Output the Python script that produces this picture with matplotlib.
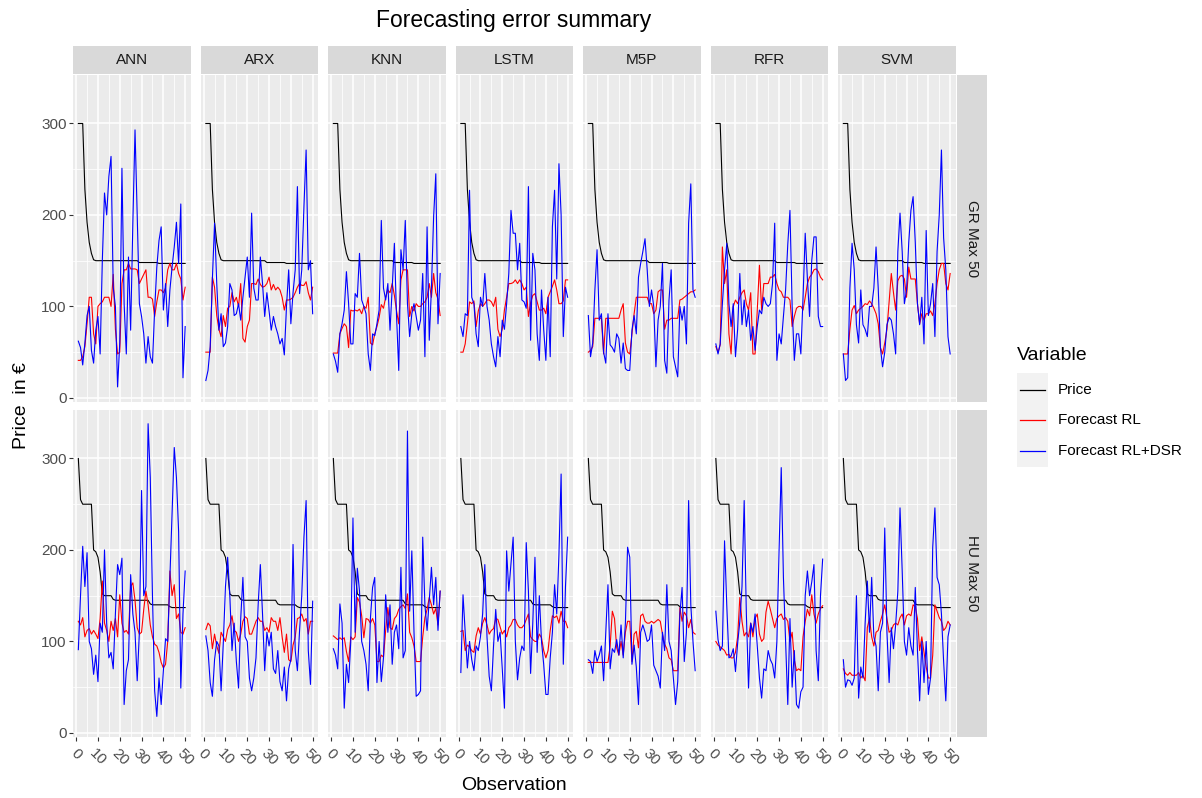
import matplotlib
matplotlib.use("Agg")
import matplotlib.pyplot as plt
from matplotlib.lines import Line2D
from matplotlib.patches import Rectangle

plt.rcParams["font.family"] = ["Liberation Sans", "DejaVu Sans"]

# ---- data ----
models = ["ANN", "ARX", "KNN", "LSTM", "M5P", "RFR", "SVM"]
markets = ["GR Max 50", "HU Max 50"]
series_names = ["Price", "Forecast RL", "Forecast RL+DSR"]
series_colors = ["#000000", "#FF0000", "#0000FF"]
obs = list(range(1, 51))

price_gr = [300, 300, 300, 228, 192, 170, 158, 151, 150, 150,
            150, 150, 150, 150, 150, 150, 150, 150, 150, 150,
            150, 150, 150, 150, 150, 150, 150, 150, 148, 148,
            148, 148, 148, 148, 148, 148, 148, 147, 147, 147,
            147, 147, 147, 147, 147, 147, 147, 147, 147, 147]
price_hu = [300, 255, 250, 250, 250, 250, 250, 200, 198, 192,
            176, 152, 150, 150, 150, 150, 146, 145, 145, 145,
            145, 145, 145, 145, 145, 145, 145, 145, 145, 145,
            145, 145, 145, 141, 140, 140, 140, 140, 140, 140,
            140, 140, 138, 137, 137, 137, 137, 137, 137, 137]

# GR Max 50
ann_gr_rl = [41, 41, 45, 56, 81, 110, 110, 70, 59, 100, 103, 105, 110, 110, 110, 100, 135, 75, 48, 50,
             125, 140, 140, 147, 141, 141, 141, 140, 125, 130, 135, 140, 110, 110, 108, 89, 105, 118, 118, 115,
             120, 140, 147, 140, 140, 147, 136, 130, 107, 121]
ann_gr_dsr = [62, 55, 36, 60, 90, 100, 52, 38, 74, 89, 48, 150, 224, 200, 242, 264, 121, 100, 12, 60,
              251, 103, 48, 154, 74, 191, 293, 200, 103, 89, 70, 38, 67, 45, 38, 96, 143, 172, 187, 96,
              125, 78, 118, 143, 165, 192, 147, 212, 22, 78]
arx_gr_rl = [50, 50, 50, 132, 121, 90, 75, 67, 90, 78, 98, 100, 115, 105, 110, 100, 125, 65, 61, 78,
             85, 125, 125, 124, 130, 124, 121, 122, 125, 132, 118, 124, 118, 121, 118, 110, 96, 107, 107, 108,
             110, 115, 121, 125, 123, 123, 127, 115, 107, 121]
arx_gr_dsr = [19, 30, 56, 130, 191, 125, 74, 92, 56, 60, 78, 125, 118, 90, 92, 103, 85, 110, 132, 154,
              110, 202, 120, 107, 107, 154, 125, 89, 115, 95, 74, 89, 78, 70, 59, 65, 47, 100, 140, 81,
              115, 140, 231, 114, 140, 209, 271, 140, 150, 92]
knn_gr_rl = [49, 49, 49, 70, 76, 81, 78, 55, 96, 95, 96, 95, 97, 92, 100, 98, 110, 60, 58, 70,
             78, 88, 102, 98, 110, 118, 115, 125, 112, 95, 81, 129, 140, 140, 140, 89, 100, 95, 103, 100,
             100, 103, 105, 110, 125, 110, 136, 115, 108, 90]
knn_gr_dsr = [48, 40, 28, 70, 81, 96, 138, 103, 59, 59, 114, 110, 158, 107, 100, 92, 48, 30, 70, 68,
              81, 96, 194, 120, 107, 125, 74, 120, 169, 89, 30, 162, 140, 194, 103, 67, 92, 103, 89, 74,
              85, 136, 45, 187, 63, 120, 198, 245, 81, 136]
lstm_gr_rl = [50, 50, 59, 81, 105, 103, 106, 78, 95, 103, 100, 103, 107, 107, 105, 100, 110, 75, 67, 75,
              96, 110, 125, 125, 126, 129, 125, 129, 125, 118, 121, 89, 104, 112, 114, 105, 96, 96, 98, 92,
              110, 116, 122, 129, 118, 103, 103, 106, 129, 129]
lstm_gr_dsr = [78, 67, 92, 90, 227, 110, 103, 70, 56, 110, 100, 136, 100, 85, 59, 45, 34, 67, 45, 85,
               75, 103, 136, 205, 180, 180, 140, 169, 107, 105, 98, 231, 63, 158, 140, 70, 41, 118, 75, 41,
               110, 45, 187, 227, 130, 256, 200, 67, 121, 110]
m5p_gr_rl = [50, 52, 56, 87, 87, 87, 87, 48, 87, 87, 87, 87, 87, 87, 87, 96, 103, 60, 50, 48,
             70, 92, 110, 110, 110, 110, 110, 110, 103, 103, 92, 96, 116, 118, 118, 75, 85, 85, 87, 87,
             87, 87, 107, 108, 110, 112, 114, 116, 116, 118]
m5p_gr_dsr = [90, 45, 60, 118, 162, 85, 92, 50, 38, 92, 58, 55, 50, 70, 65, 38, 60, 32, 30, 30,
              74, 90, 70, 132, 147, 160, 174, 140, 100, 118, 100, 34, 85, 100, 147, 41, 27, 107, 140, 45,
              34, 23, 100, 85, 100, 59, 191, 234, 118, 110]
rfr_gr_rl = [56, 50, 58, 165, 125, 140, 70, 48, 100, 107, 103, 110, 115, 118, 103, 96, 115, 48, 48, 96,
             145, 96, 125, 125, 125, 132, 132, 135, 125, 118, 116, 110, 110, 110, 107, 78, 89, 98, 100, 100,
             96, 110, 125, 132, 135, 140, 141, 138, 132, 129]
rfr_gr_dsr = [59, 48, 59, 103, 140, 169, 103, 78, 103, 45, 75, 136, 80, 107, 78, 96, 63, 78, 52, 78,
              96, 92, 110, 103, 100, 103, 125, 191, 41, 70, 59, 89, 118, 168, 205, 100, 41, 70, 70, 48,
              110, 180, 130, 89, 150, 176, 176, 89, 78, 78]
svm_gr_rl = [48, 48, 48, 75, 96, 101, 92, 96, 98, 100, 103, 102, 106, 103, 98, 92, 81, 55, 48, 60,
             75, 105, 136, 115, 96, 128, 133, 134, 130, 110, 143, 130, 130, 130, 103, 81, 92, 85, 92, 92,
             95, 90, 103, 125, 140, 147, 147, 125, 118, 136]
svm_gr_dsr = [48, 19, 22, 120, 169, 140, 80, 60, 118, 80, 75, 67, 100, 100, 120, 165, 120, 55, 34, 50,
              80, 88, 85, 70, 48, 160, 202, 160, 103, 118, 170, 205, 220, 170, 103, 80, 110, 59, 183, 90,
              103, 125, 67, 160, 200, 271, 175, 140, 67, 48]

# HU Max 50
ann_hu_rl = [122, 118, 126, 105, 112, 114, 108, 112, 108, 103, 125, 166, 120, 112, 100, 122, 112, 125, 105, 151,
             120, 110, 112, 108, 160, 164, 145, 115, 108, 110, 135, 155, 140, 118, 105, 97, 95, 88, 77, 71,
             75, 100, 177, 150, 162, 125, 130, 110, 108, 115]
ann_hu_dsr = [91, 150, 204, 160, 197, 100, 92, 64, 85, 56, 120, 110, 200, 120, 82, 88, 70, 130, 184, 173,
              191, 31, 68, 80, 173, 130, 110, 57, 110, 265, 150, 160, 338, 279, 150, 46, 18, 60, 31, 68,
              103, 100, 170, 240, 312, 279, 220, 49, 130, 177]
arx_hu_rl = [113, 120, 117, 92, 108, 95, 87, 110, 105, 100, 113, 118, 128, 112, 110, 100, 108, 122, 127, 125,
             108, 108, 115, 122, 126, 122, 122, 112, 115, 110, 126, 122, 122, 112, 126, 105, 88, 108, 80, 78,
             96, 105, 125, 126, 130, 122, 125, 108, 122, 122]
arx_hu_dsr = [106, 90, 55, 40, 80, 100, 95, 46, 98, 160, 192, 150, 90, 120, 78, 49, 125, 170, 105, 100,
              60, 46, 60, 82, 140, 184, 130, 68, 110, 95, 110, 70, 65, 90, 56, 46, 72, 35, 70, 80,
              206, 90, 68, 112, 150, 214, 254, 90, 53, 144]
knn_hu_rl = [106, 104, 102, 104, 102, 104, 89, 78, 105, 102, 105, 148, 143, 128, 104, 125, 124, 120, 125, 118,
             78, 78, 85, 83, 112, 137, 115, 113, 125, 128, 135, 138, 140, 136, 152, 110, 104, 95, 78, 78,
             78, 105, 126, 135, 148, 140, 130, 136, 118, 155]
knn_hu_dsr = [92, 85, 70, 141, 120, 27, 75, 55, 100, 235, 110, 180, 155, 100, 90, 75, 46, 125, 159, 170,
              55, 100, 56, 82, 151, 110, 140, 75, 110, 118, 92, 181, 82, 90, 330, 133, 199, 110, 40, 42,
              46, 214, 140, 112, 145, 181, 140, 170, 112, 155]
lstm_hu_rl = [111, 112, 90, 96, 94, 90, 88, 106, 115, 108, 120, 126, 118, 108, 112, 114, 125, 124, 116, 108,
              112, 105, 115, 118, 124, 124, 118, 115, 115, 118, 124, 130, 105, 102, 100, 100, 108, 104, 90, 82,
              90, 112, 128, 126, 128, 120, 133, 122, 122, 115]
lstm_hu_dsr = [66, 151, 110, 71, 100, 80, 68, 95, 90, 105, 130, 184, 105, 62, 46, 95, 135, 100, 110, 70,
               27, 199, 155, 185, 214, 100, 58, 82, 95, 90, 208, 155, 65, 120, 192, 88, 150, 100, 75, 42,
               42, 82, 110, 162, 130, 195, 283, 75, 160, 214]
m5p_hu_rl = [77, 77, 77, 77, 77, 77, 77, 77, 77, 77, 95, 133, 125, 93, 85, 100, 85, 110, 122, 122,
             78, 108, 111, 93, 128, 130, 122, 120, 120, 122, 120, 122, 124, 122, 108, 97, 92, 82, 80, 68,
             68, 68, 137, 122, 132, 128, 115, 124, 110, 108]
m5p_hu_dsr = [80, 78, 65, 90, 78, 85, 95, 57, 110, 162, 70, 92, 88, 102, 85, 118, 82, 120, 203, 192,
              75, 96, 72, 31, 110, 118, 110, 100, 102, 118, 74, 68, 62, 49, 110, 90, 162, 100, 90, 60,
              31, 56, 130, 159, 78, 110, 254, 140, 100, 68]
rfr_hu_rl = [100, 96, 94, 92, 90, 85, 86, 82, 82, 88, 105, 148, 122, 106, 110, 105, 120, 105, 125, 130,
             108, 100, 103, 132, 144, 135, 125, 115, 125, 128, 130, 124, 126, 122, 100, 110, 80, 68, 70, 68,
             105, 122, 135, 128, 151, 130, 120, 130, 136, 139]
rfr_hu_dsr = [133, 102, 90, 95, 210, 140, 82, 84, 92, 67, 98, 122, 160, 254, 130, 49, 120, 110, 130, 95,
              60, 38, 70, 68, 90, 80, 75, 60, 100, 199, 290, 170, 100, 31, 125, 50, 90, 31, 27, 45,
              50, 150, 177, 150, 165, 184, 90, 57, 150, 190]
svm_hu_rl = [70, 65, 63, 66, 63, 63, 63, 66, 60, 63, 57, 115, 125, 105, 95, 110, 112, 122, 130, 140,
             125, 110, 112, 118, 120, 118, 126, 130, 118, 128, 130, 128, 140, 138, 125, 90, 105, 88, 72, 60,
             60, 85, 140, 133, 126, 122, 112, 115, 122, 118]
svm_hu_dsr = [80, 50, 58, 57, 52, 60, 150, 38, 72, 60, 120, 166, 110, 170, 105, 95, 46, 110, 120, 224,
              110, 55, 115, 92, 118, 155, 246, 177, 100, 85, 115, 95, 85, 159, 90, 35, 100, 55, 100, 42,
              60, 203, 246, 170, 162, 130, 78, 35, 105, 118]

forecasts = {
    "GR Max 50": {"ANN": (ann_gr_rl, ann_gr_dsr), "ARX": (arx_gr_rl, arx_gr_dsr),
                  "KNN": (knn_gr_rl, knn_gr_dsr), "LSTM": (lstm_gr_rl, lstm_gr_dsr),
                  "M5P": (m5p_gr_rl, m5p_gr_dsr), "RFR": (rfr_gr_rl, rfr_gr_dsr),
                  "SVM": (svm_gr_rl, svm_gr_dsr)},
    "HU Max 50": {"ANN": (ann_hu_rl, ann_hu_dsr), "ARX": (arx_hu_rl, arx_hu_dsr),
                  "KNN": (knn_hu_rl, knn_hu_dsr), "LSTM": (lstm_hu_rl, lstm_hu_dsr),
                  "M5P": (m5p_hu_rl, m5p_hu_dsr), "RFR": (rfr_hu_rl, rfr_hu_dsr),
                  "SVM": (svm_hu_rl, svm_hu_dsr)},
}
prices = {"GR Max 50": price_gr, "HU Max 50": price_hu}

# ---- layout (pixels) ----
W, H = 1202, 798
fig = plt.figure(figsize=(W / 100, H / 100), dpi=100)


def px_axes(x0, y0, x1, y1):
    return fig.add_axes([x0 / W, 1 - y1 / H, (x1 - x0) / W, (y1 - y0) / H])


col_left0, col_pitch, col_w = 73, 127.5, 117.5
row_tops = [75, 410]
row_h = 327
strip_col = "#D9D9D9"
panel_col = "#EBEBEB"
txt_dark = "#1A1A1A"
txt_axis = "#4D4D4D"

for r, market in enumerate(markets):
    top = row_tops[r]
    for c, model in enumerate(models):
        left = col_left0 + c * col_pitch
        ax = px_axes(left, top, left + col_w, top + row_h)
        ax.set_facecolor(panel_col)
        for s in ax.spines.values():
            s.set_visible(False)
        ax.set_xlim(-1.45, 52.45)
        ax.set_ylim(-4.5, 353)
        ax.set_xticks([0, 10, 20, 30, 40, 50])
        ax.set_xticks([5, 15, 25, 35, 45], minor=True)
        ax.set_yticks([0, 100, 200, 300])
        ax.set_yticks([50, 150, 250], minor=True)
        ax.grid(which="major", color="white", linewidth=1.1)
        ax.grid(which="minor", color="white", linewidth=0.55)
        ax.set_axisbelow(True)
        ax.tick_params(which="minor", length=0)
        ax.tick_params(which="major", length=2.6, width=0.8, color="#333333",
                       labelsize=11, labelcolor=txt_axis, pad=2)

        rl, dsr = forecasts[market][model]
        for vals, col in zip([prices[market], rl, dsr], series_colors):
            ax.plot(obs, vals, color=col, linewidth=0.8)

        if c == 0:
            ax.set_yticklabels(["0", "100", "200", "300"])
        else:
            ax.tick_params(axis="y", left=False, labelleft=False)
        if r == len(markets) - 1:
            ax.set_xticklabels(["0", "10", "20", "30", "40", "50"])
            for lab in ax.get_xticklabels():
                lab.set_rotation(-45)
                lab.set_ha("center")
                lab.set_va("top")
            ax.tick_params(axis="x", pad=4)
        else:
            ax.tick_params(axis="x", bottom=False, labelbottom=False)

        # top strips
        if r == 0:
            sax = px_axes(left, 46, left + col_w, 74)
            sax.set_facecolor(strip_col)
            sax.set_xticks([])
            sax.set_yticks([])
            for s in sax.spines.values():
                s.set_visible(False)
            sax.text(0.5, 0.5, model, ha="center", va="center", fontsize=11,
                     color=txt_dark, transform=sax.transAxes)

    # right strips
    sl = col_left0 + 6 * col_pitch + col_w + 1.5
    rax = px_axes(sl, top, sl + 30, top + row_h)
    rax.set_facecolor(strip_col)
    rax.set_xticks([])
    rax.set_yticks([])
    for s in rax.spines.values():
        s.set_visible(False)
    rax.text(0.5, 0.5, market, ha="center", va="center", rotation=-90, fontsize=11,
             color=txt_dark, transform=rax.transAxes)

# titles
fig.text(514 / W, 1 - 20 / H, "Forecasting error summary", ha="center", va="center",
         fontsize=16.5, color="black")
fig.text(514 / W, 1 - 785 / H, "Observation", ha="center", va="center", fontsize=14, color="black")
fig.text(22 / W, 1 - 406 / H, "Price  in €", ha="center", va="center", rotation=90,
         fontsize=14, color="black")

# legend
fig.text(1017 / W, 1 - 356 / H, "Variable", ha="left", va="center", fontsize=14, color="black")
fig.add_artist(Rectangle((1017 / W, 1 - 467 / H), 31 / W, 94 / H, transform=fig.transFigure,
                         facecolor="#F2F2F2", edgecolor="none"))
for i, (name, col) in enumerate(zip(series_names, series_colors)):
    yk = 390 + i * 30.5
    fig.add_artist(Line2D([1020 / W, 1045 / W], [1 - yk / H, 1 - yk / H], transform=fig.transFigure,
                          color=col, linewidth=0.9))
    fig.text(1058 / W, 1 - yk / H, name, ha="left", va="center", fontsize=11, color="black")

fig.savefig("out.png", dpi=100)
